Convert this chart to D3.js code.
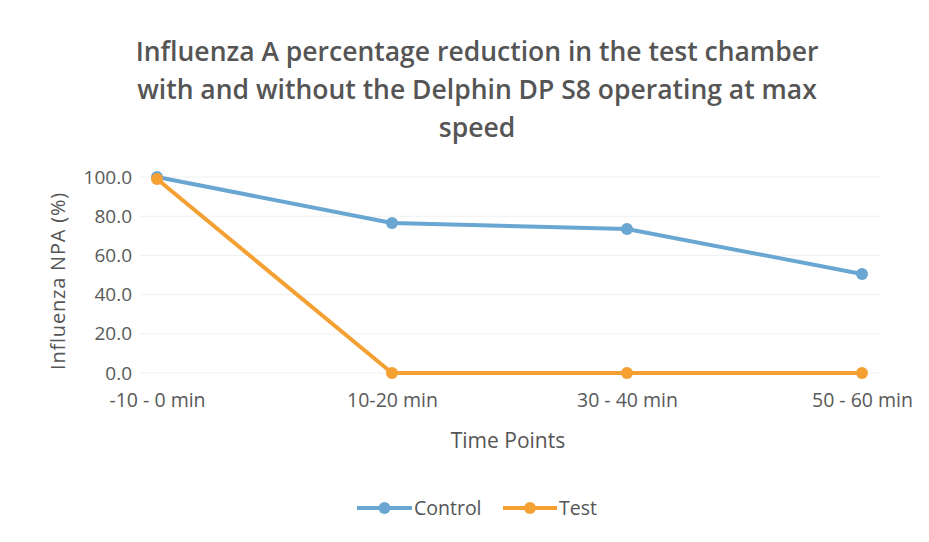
<!DOCTYPE html>
<html><head><meta charset="utf-8">
<script src="https://cdn.jsdelivr.net/npm/d3@7"></script>
<style>body{margin:0;background:#fff}svg{display:block}</style>
</head><body>
<script>
const categories = ["-10 - 0 min", "10-20 min", "30 - 40 min", "50 - 60 min"];
const controlValues = [100.0, 76.5, 73.5, 50.5];
const testValues = [99.0, 0.0, 0.0, 0.0];
const yTicks = [0, 20, 40, 60, 80, 100];
const titleLines = ["Influenza A percentage reduction in the test chamber", "with and without the Delphin DP S8 operating at max", "speed"];

const W = 929, H = 542;
const svg = d3.select("body").append("svg").attr("width", W).attr("height", H);
const font = "'Open Sans', 'DejaVu Sans', sans-serif";

const x = d3.scalePoint().domain(categories).range([157, 862]);
const y = d3.scaleLinear().domain([0, 100]).range([373, 177]);

// gridlines
svg.append("g").selectAll("line").data(yTicks).join("line")
  .attr("x1", 140).attr("x2", 880)
  .attr("y1", d => y(d)).attr("y2", d => y(d))
  .attr("stroke", "#f0f0f0").attr("stroke-width", 1);

// y axis labels
const yAxis = d3.axisLeft(y).tickValues(yTicks).tickFormat(d3.format(".1f")).tickSize(0).tickPadding(0);
const gy = svg.append("g").attr("transform", "translate(132,0)").call(yAxis);
gy.select(".domain").remove();
gy.selectAll("text").attr("font-family", font).attr("font-size", 19).attr("fill", "#595959");

// x axis labels
const xAxis = d3.axisBottom(x).tickSize(0).tickPadding(0);
const gx = svg.append("g").attr("transform", "translate(0,393)").call(xAxis);
gx.select(".domain").remove();
gx.selectAll("text").attr("font-family", font).attr("font-size", 19.5).attr("fill", "#595959").attr("dy", "0.71em");

// title
svg.append("text").attr("x", 477).attr("y", 61).attr("text-anchor", "middle")
  .attr("font-family", font).attr("font-size", 26.5).attr("font-weight", 600).attr("fill", "#555")
  .selectAll("tspan").data(titleLines).join("tspan")
  .attr("x", 477).attr("dy", (d, i) => i === 0 ? 0 : 38).text(d => d);

// axis titles
svg.append("text").attr("transform", "translate(65,281) rotate(-90)").attr("text-anchor", "middle")
  .attr("font-family", font).attr("font-size", 20).attr("letter-spacing", 0.8).attr("fill", "#555").text("Influenza NPA  (%)");
svg.append("text").attr("x", 508).attr("y", 448).attr("text-anchor", "middle")
  .attr("font-family", font).attr("font-size", 21).attr("fill", "#555").text("Time Points");

const series = [
  {name: "Control", values: controlValues, color: "#6aa6d2"},
  {name: "Test", values: testValues, color: "#f5a033"}
];
const line = d3.line().x((d, i) => x(categories[i])).y(d => y(d));

series.forEach(s => {
  svg.append("path").datum(s.values).attr("d", line).attr("fill", "none")
    .attr("stroke", s.color).attr("stroke-width", 4).attr("stroke-linejoin", "round");
  svg.append("g").selectAll("circle").data(s.values).join("circle")
    .attr("cx", (d, i) => x(categories[i])).attr("cy", d => y(d)).attr("r", 6).attr("fill", s.color);
});

// legend
const legend = [{name: "Control", color: "#6aa6d2", x: 357, w: 55}, {name: "Test", color: "#f5a033", x: 503, w: 54}];
legend.forEach(l => {
  const g = svg.append("g");
  g.append("line").attr("x1", l.x).attr("x2", l.x + l.w).attr("y1", 508).attr("y2", 508)
    .attr("stroke", l.color).attr("stroke-width", 4);
  g.append("circle").attr("cx", l.x + l.w / 2).attr("cy", 508).attr("r", 6).attr("fill", l.color);
  g.append("text").attr("x", l.x + l.w + 2).attr("y", 515).attr("font-family", font)
    .attr("font-size", 19.5).attr("fill", "#555").text(l.name);
});
</script>
</body></html>
